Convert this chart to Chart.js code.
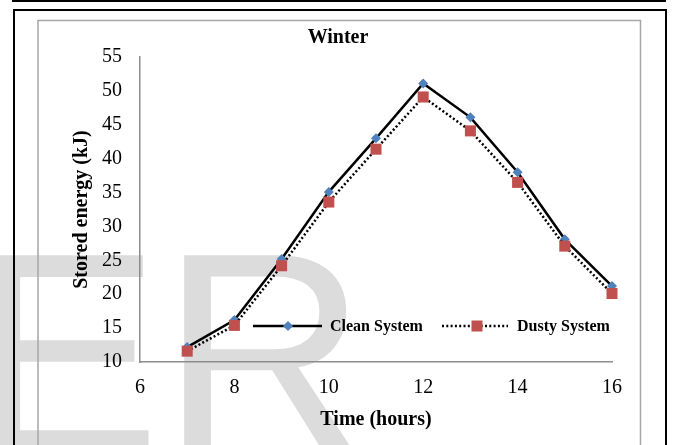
<!DOCTYPE html>
<html>
<head>
<meta charset="utf-8">
<script src="https://cdn.jsdelivr.net/npm/chart.js@4/dist/chart.umd.min.js"></script>
<style>
  html, body { margin: 0; padding: 0; background: #fff; }
  canvas { display: block; }
</style>
</head>
<body>
<canvas id="chart" width="674" height="445"></canvas>
<script>
const hours = [7, 8, 9, 10, 11, 12, 13, 14, 15, 16];
const cleanSystem = [12.2, 16.2, 25.2, 35.1, 43.0, 51.1, 46.1, 38.0, 28.1, 21.2];
const dustySystem = [11.6, 15.4, 24.2, 33.6, 41.4, 49.1, 44.1, 36.5, 27.1, 20.1];

const serif = '"Liberation Serif", "Times New Roman", serif';
const blue = '#4f81bd';
const red = '#c0504d';

function toPoints(xs, ys) {
    return xs.map((x, i) => ({ x: x, y: ys[i] }));
}

// page frame + faint watermark behind the chart
const framePlugin = {
    id: 'frame',
    beforeDraw(chart) {
        const ctx = chart.ctx;
        ctx.save();
        ctx.fillStyle = '#fff';
        ctx.fillRect(0, 0, chart.width, chart.height);

        ctx.fillStyle = '#dcdcdc';
        ctx.font = '286px "Liberation Sans", Arial, sans-serif';
        ctx.textBaseline = 'alphabetic';
        ctx.fillText('ER', -30, 452);

        ctx.fillStyle = '#000';
        ctx.fillRect(12, 0, 654, 2);
        ctx.strokeStyle = '#000';
        ctx.lineWidth = 2;
        ctx.strokeRect(14, 10, 652, 460);
        ctx.strokeStyle = '#a6a6a6';
        ctx.lineWidth = 1.5;
        ctx.strokeRect(38, 20.5, 602.5, 460);

        ctx.fillStyle = '#000';
        ctx.font = 'bold 20px ' + serif;
        ctx.textAlign = 'center';
        ctx.textBaseline = 'middle';
        ctx.fillText('Winter', 338, 38);
        ctx.restore();
    }
};

// legend drawn inside the plot: line + marker + label
const legendPlugin = {
    id: 'inlineLegend',
    afterDraw(chart) {
        const ctx = chart.ctx;
        const y = 326;
        ctx.save();
        ctx.strokeStyle = '#000';
        ctx.lineWidth = 2.5;

        ctx.beginPath();
        ctx.moveTo(253, y);
        ctx.lineTo(322, y);
        ctx.stroke();
        ctx.fillStyle = blue;
        ctx.beginPath();
        ctx.moveTo(288, y - 5); ctx.lineTo(293, y); ctx.lineTo(288, y + 5); ctx.lineTo(283, y);
        ctx.closePath();
        ctx.fill();

        ctx.setLineDash([2, 2.3]);
        ctx.beginPath();
        ctx.moveTo(442, y);
        ctx.lineTo(508, y);
        ctx.stroke();
        ctx.setLineDash([]);
        ctx.fillStyle = red;
        ctx.fillRect(471.5, y - 5.5, 11, 11);

        ctx.fillStyle = '#000';
        ctx.font = 'bold 16px ' + serif;
        ctx.textAlign = 'left';
        ctx.textBaseline = 'middle';
        ctx.fillText('Clean System', 330, y + 1);
        ctx.fillText('Dusty System', 517, y + 1);
        ctx.restore();
    }
};

new Chart(document.getElementById('chart'), {
    type: 'line',
    data: {
        datasets: [{
            label: 'Clean System',
            data: toPoints(hours, cleanSystem),
            borderColor: '#000',
            borderWidth: 2.5,
            pointStyle: 'rectRot',
            pointRadius: 5,
            pointBackgroundColor: blue,
            pointBorderColor: blue,
            pointBorderWidth: 0,
            clip: false,
            order: 1
        }, {
            label: 'Dusty System',
            data: toPoints(hours, dustySystem),
            borderColor: '#000',
            borderWidth: 2.5,
            borderDash: [2, 2.3],
            pointStyle: 'rect',
            pointRadius: 7.8,
            pointBackgroundColor: red,
            pointBorderColor: red,
            pointBorderWidth: 0,
            clip: false,
            order: 0
        }]
    },
    options: {
        responsive: false,
        animation: false,
        layout: {
            padding: { left: 40, right: 62, top: 57, bottom: 0 }
        },
        plugins: {
            legend: { display: false },
            title: { display: false },
            tooltip: { enabled: false }
        },
        scales: {
            x: {
                type: 'linear',
                min: 6,
                max: 16,
                afterFit: s => { s.height = 83; },
                grid: { display: false, drawTicks: false },
                border: { display: true, color: '#8c8c8c', width: 1.5 },
                ticks: {
                    stepSize: 2,
                    padding: 14,
                    color: '#000',
                    font: { family: serif, size: 20 }
                },
                title: {
                    display: true,
                    text: 'Time (hours)',
                    color: '#000',
                    font: { family: serif, size: 20, weight: 'bold' },
                    padding: { top: 0, bottom: 13 }
                }
            },
            y: {
                min: 10,
                max: 55,
                afterFit: s => { s.width = 100; },
                grid: { display: false, drawTicks: false },
                border: { display: true, color: '#8c8c8c', width: 1.5 },
                ticks: {
                    stepSize: 5,
                    padding: 18,
                    color: '#000',
                    font: { family: serif, size: 20 }
                },
                title: {
                    display: true,
                    text: 'Stored energy (kJ)',
                    color: '#000',
                    font: { family: serif, size: 20, weight: 'bold' },
                    padding: { top: 30, bottom: 0 }
                }
            }
        }
    },
    plugins: [framePlugin, legendPlugin]
});
</script>
</body>
</html>
